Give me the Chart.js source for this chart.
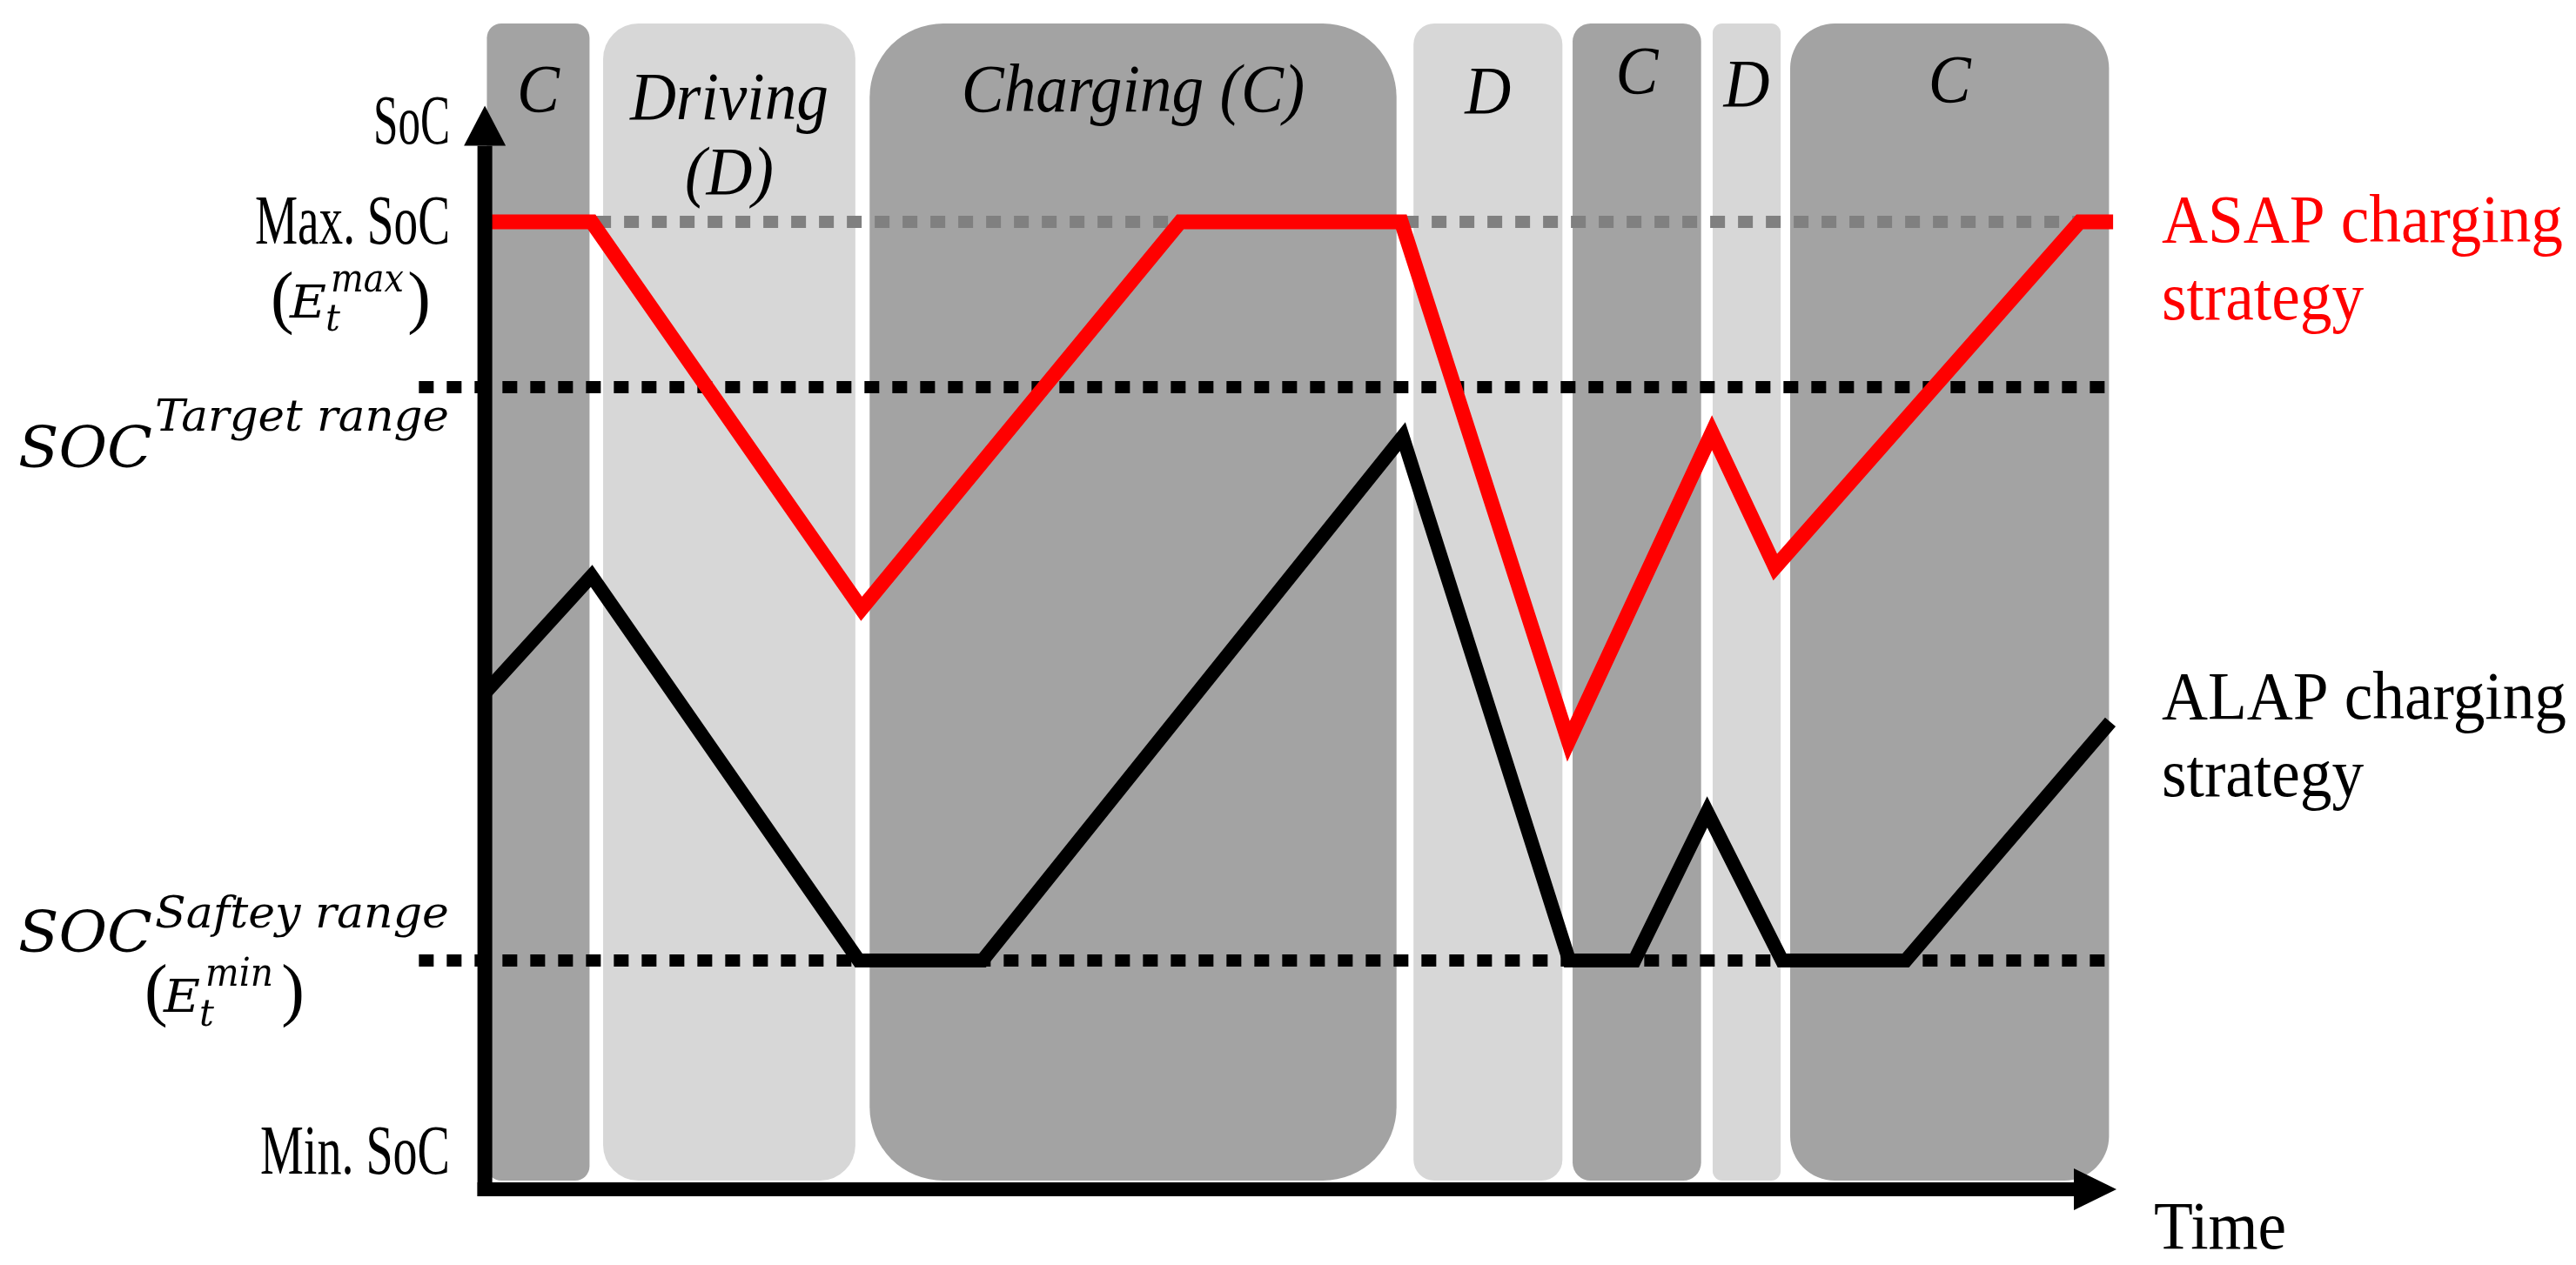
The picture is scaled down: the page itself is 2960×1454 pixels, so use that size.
<!DOCTYPE html>
<html>
<head>
<meta charset="utf-8">
<title>ASAP vs ALAP charging</title>
<script src="https://cdn.jsdelivr.net/npm/chart.js@4.4.1/dist/chart.umd.min.js"></script>
<style>
    html, body { margin: 0; padding: 0; background: #ffffff; }
    #wrap { position: relative; width: 2960px; height: 1454px; }
</style>
</head>
<body>
<div id="wrap"><canvas id="soc-by-time"></canvas></div>
<script>
// time in hours (arbitrary), SoC in % of max
const asapTime = [0, 1.57, 5.54, 10.23, 13.48, 15.94, 18.05, 18.98, 23.46, 23.95];
const asapSoc = [100, 100, 60, 100, 100, 46.3, 78.2, 64.3, 100, 100];

const alapTime = [0, 1.57, 5.50, 7.32, 13.5, 15.95, 16.91, 17.98, 19.08, 20.9, 23.91];
const alapSoc = [51.3, 63.4, 23.65, 23.65, 77.8, 23.65, 23.65, 39, 23.65, 23.65, 48.3];

// reference levels on the SoC axis
const maxSoc = 100;
const targetSoc = 82.9;
const safetySoc = 23.65;
const minSoc = 0;

// driving / charging periods
const phaseStart = [0.03, 1.74, 5.66, 13.66, 16.0, 18.06, 19.2];
const phaseEnd = [1.54, 5.45, 13.41, 15.85, 17.89, 19.06, 23.89];
const phaseMode = ['C', 'D', 'C', 'D', 'C', 'D', 'C'];
const phaseLabel = [['C'], ['Driving', '(D)'], ['Charging (C)'], ['D'], ['C'], ['D'], ['C']];

const serif = '"Liberation Serif", "Times New Roman", serif';
const math = '"DejaVu Serif", serif';

function toPoints(xs, ys) {
    return xs.map(function (t, i) { return { x: t, y: ys[i] }; });
}

// draw text squeezed/stretched horizontally
function putText(ctx, text, x, y, font, opts) {
    opts = opts || {};
    ctx.save();
    ctx.font = font;
    ctx.fillStyle = opts.color || '#000';
    ctx.textAlign = 'left';
    ctx.textBaseline = 'alphabetic';
    const m = ctx.measureText(text).width;
    const sx = opts.width ? opts.width / m : (opts.sx || 1);
    let left = x;
    if (opts.align === 'right') left = x - m * sx;
    if (opts.align === 'center') left = x - m * sx / 2;
    ctx.translate(left, y);
    ctx.scale(sx, 1);
    ctx.fillText(text, 0, 0);
    ctx.restore();
}

const phaseBands = {
    id: 'phaseBands',
    beforeDatasetsDraw(chart) {
        const ctx = chart.ctx;
        const x = chart.scales.x, y = chart.scales.y;
        const top = chart.chartArea.top;
        const bottom = y.getPixelForValue(minSoc) - 10;
        ctx.save();
        phaseStart.forEach(function (s, i) {
            const x0 = x.getPixelForValue(s);
            const x1 = x.getPixelForValue(phaseEnd[i]);
            const r = Math.min((x1 - x0) * 0.14, 85);
            ctx.fillStyle = phaseMode[i] === 'C' ? '#a3a3a3' : '#d7d7d7';
            ctx.beginPath();
            ctx.roundRect(x0, top, x1 - x0, bottom - top, r);
            ctx.fill();
        });
        // labels on top of each period
        const drop = [128, 137, 128, 130, 107, 122, 117];
        phaseLabel.forEach(function (lines, i) {
            const cx = (x.getPixelForValue(phaseStart[i]) + x.getPixelForValue(phaseEnd[i])) / 2;
            lines.forEach(function (txt, k) {
                putText(ctx, txt, cx, drop[i] + k * 86, 'italic 78px ' + serif, { align: 'center', sx: 0.94 });
            });
        });
        ctx.restore();
    }
};

const axesAndLabels = {
    id: 'axesAndLabels',
    afterDatasetsDraw(chart) {
        const ctx = chart.ctx;
        const x = chart.scales.x, y = chart.scales.y;
        const x0 = x.getPixelForValue(0), y0 = y.getPixelForValue(minSoc);
        const yTip = y.getPixelForValue(112);
        const xTip = x.getPixelForValue(24);
        ctx.save();
        ctx.fillStyle = '#000';
        ctx.fillRect(x0 - 8.5, yTip + 46, 17, y0 + 8 - (yTip + 46));
        ctx.beginPath();
        ctx.moveTo(x0, yTip); ctx.lineTo(x0 - 24, yTip + 46); ctx.lineTo(x0 + 24, yTip + 46);
        ctx.closePath(); ctx.fill();
        ctx.fillRect(x0 - 8.5, y0 - 8, xTip - 49 - (x0 - 8.5), 16);
        ctx.beginPath();
        ctx.moveTo(xTip, y0); ctx.lineTo(xTip - 49, y0 - 24); ctx.lineTo(xTip - 49, y0 + 24);
        ctx.closePath(); ctx.fill();
        ctx.restore();
    },
    afterDraw(chart) {
        const ctx = chart.ctx;
        const x = chart.scales.x, y = chart.scales.y;
        const f = '78px ' + serif;
        const right = 517;
        const yMax = y.getPixelForValue(maxSoc);
        const yTarget = y.getPixelForValue(targetSoc);
        const ySafe = y.getPixelForValue(safetySoc);
        const yMin = y.getPixelForValue(minSoc);

        // y axis labels are narrower than the rest
        putText(ctx, 'SoC', right, y.getPixelForValue(112) + 43, '80px ' + serif, { align: 'right', width: 88 });
        putText(ctx, 'Max. SoC', right, yMax + 25, '80px ' + serif, { align: 'right', width: 224 });
        putText(ctx, 'Min. SoC', right, yMin - 18, '80px ' + serif, { align: 'right', width: 218 });

        // (E_t^max)
        putText(ctx, '(', 311, yMax + 113, '80px ' + serif);
        putText(ctx, 'E', 333, yMax + 110, 'italic 52px ' + math, { width: 42 });
        putText(ctx, 'max', 380, yMax + 80, 'italic 44px ' + math, { width: 84 });
        putText(ctx, 't', 374, yMax + 125, 'italic 42px ' + math);
        putText(ctx, ')', 495, yMax + 113, '80px ' + serif, { align: 'right' });

        // SOC^Target range
        putText(ctx, 'SOC', 21, yTarget + 92, 'italic 66px ' + math, { width: 154 });
        putText(ctx, 'Target range', 178, yTarget + 50, 'italic 51px ' + math, { width: 338 });

        // SOC^Saftey range and (E_t^min)
        putText(ctx, 'SOC', 21, ySafe - 10, 'italic 66px ' + math, { width: 154 });
        putText(ctx, 'Saftey range', 178, ySafe - 38, 'italic 51px ' + math, { width: 338 });
        putText(ctx, '(', 166, ySafe + 60, '80px ' + serif);
        putText(ctx, 'E', 188, ySafe + 59, 'italic 52px ' + math, { width: 42 });
        putText(ctx, 'min', 236, ySafe + 29, 'italic 44px ' + math, { width: 78 });
        putText(ctx, 't', 229, ySafe + 75, 'italic 42px ' + math);
        putText(ctx, ')', 350, ySafe + 60, '80px ' + serif, { align: 'right' });

        // series names at the end of each line
        const lx = 2484;
        const yAsap = y.getPixelForValue(asapSoc[asapSoc.length - 1]);
        const yAlap = y.getPixelForValue(alapSoc[alapSoc.length - 1]);
        putText(ctx, 'ASAP charging', lx, yAsap + 23, f, { color: '#ff0000', sx: 0.94 });
        putText(ctx, 'strategy', lx, yAsap + 112, f, { color: '#ff0000', sx: 0.94 });
        putText(ctx, 'ALAP charging', lx, yAlap - 4, f, { sx: 0.94 });
        putText(ctx, 'strategy', lx, yAlap + 85, f, { sx: 0.94 });

        putText(ctx, 'Time', x.getPixelForValue(24) + 43, yMin + 68, f, { sx: 0.94 });
    }
};

const ctx = document.getElementById('soc-by-time');

new Chart(ctx, {
    type: 'line',
    data: {
        datasets: [{
            label: 'ASAP charging strategy',
            data: toPoints(asapTime, asapSoc),
            borderColor: '#ff0000',
            borderWidth: 17,
            order: 1
        }, {
            label: 'ALAP charging strategy',
            data: toPoints(alapTime, alapSoc),
            borderColor: '#000000',
            borderWidth: 16,
            order: 2
        }, {
            label: 'Max. SoC',
            data: [{ x: 0, y: maxSoc }, { x: 23.9, y: maxSoc }],
            borderColor: '#808080',
            borderWidth: 14,
            borderDash: [17, 15],
            order: 3
        }, {
            label: 'Target range',
            data: [{ x: -0.97, y: targetSoc }, { x: 23.85, y: targetSoc }],
            borderColor: '#000000',
            borderWidth: 14,
            borderDash: [17, 15],
            order: 4
        }, {
            label: 'Safety range',
            data: [{ x: -0.97, y: safetySoc }, { x: 23.85, y: safetySoc }],
            borderColor: '#000000',
            borderWidth: 14,
            borderDash: [17, 15],
            order: 5
        }]
    },
    options: {
        responsive: true,
        maintainAspectRatio: false,
        animation: false,
        layout: { padding: { left: 479, right: 528, top: 27, bottom: 87 } },
        elements: {
            point: { radius: 0, hoverRadius: 0 },
            line: { tension: 0, borderJoinStyle: 'miter', borderCapStyle: 'butt', fill: false }
        },
        datasets: { line: { clip: false } },
        scales: {
            x: { type: 'linear', min: -1, max: 24, display: false },
            y: { min: 0, max: 120.5, display: false }
        },
        plugins: {
            legend: { display: false },
            tooltip: { enabled: false }
        }
    },
    plugins: [phaseBands, axesAndLabels]
});
</script>
</body>
</html>
